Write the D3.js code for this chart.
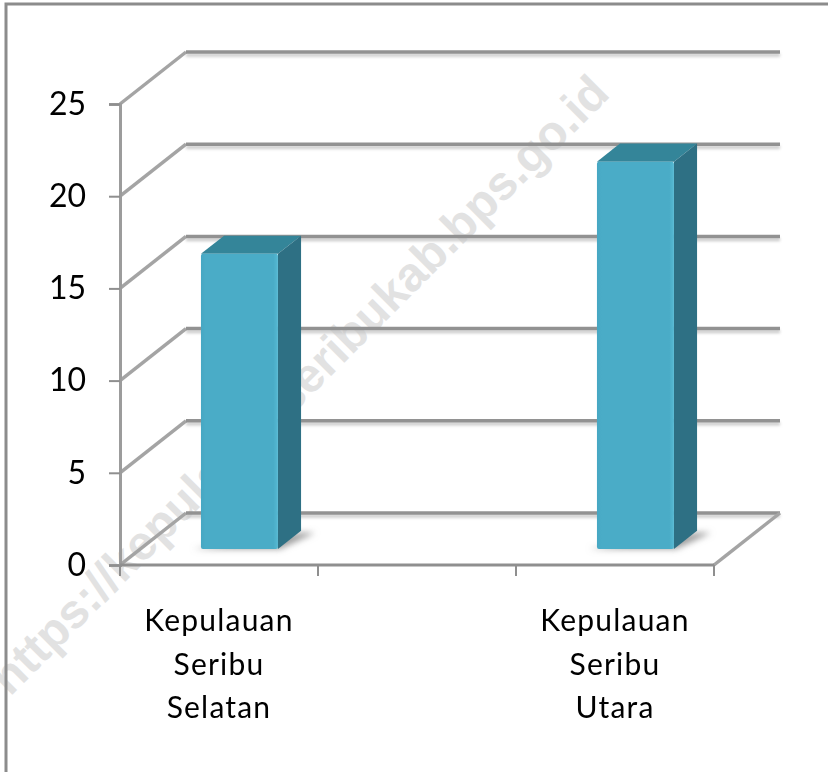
<!DOCTYPE html>
<html lang="en">
<head>
    <meta charset="UTF-8">
    <title>Kepulauan Seribu</title>
    <script src="https://d3js.org/d3.v7.min.js"></script>
    <style>
        html, body { margin: 0; padding: 0; background: #fff; }
        svg { display: block; }
        text { font-family: Lato, "Open Sans", sans-serif; fill: #000; }
    </style>
</head>
<body>
    <div id="chart-div"></div>
    <script type="text/javascript">
        // data
        const categories = ["Kepulauan Seribu Selatan", "", "Kepulauan Seribu Utara"];
        const values = [16, null, 21];
        const yTicks = [0, 5, 10, 15, 20, 25];
        const watermark = "https://kepulauanseribukab.bps.go.id";

        const chartWidth = 828, chartHeight = 772;

        const svg = d3.select("#chart-div").append("svg")
            .attr("width", chartWidth)
            .attr("height", chartHeight);

        const x = d3.scaleBand().domain(categories).range([120, 714]);
        const y = d3.scaleLinear().domain([0, 25]).range([565, 104]);

        // depth into the picture: 0 = front wall edge, 1 = back wall
        const depthX = d3.scaleLinear().domain([0, 1]).range([0, 66]);
        const depthY = d3.scaleLinear().domain([0, 1]).range([0, -52]);
        const barNear = 0.31, barFar = 0.66;
        const barWidth = 77;

        const defs = svg.append("defs");
        const addBlur = (id, sd) => defs.append("filter").attr("id", id)
            .attr("filterUnits", "userSpaceOnUse")
            .attr("x", 0).attr("y", 0).attr("width", chartWidth).attr("height", chartHeight)
            .append("feGaussianBlur").attr("stdDeviation", sd);
        addBlur("soft", 1.6);
        addBlur("crisp", 0.6);
        addBlur("floor", 3);
        const frontGrad = defs.append("linearGradient").attr("id", "front");
        frontGrad.append("stop").attr("offset", "0").attr("stop-color", "#46a7c3");
        frontGrad.append("stop").attr("offset", "0.06").attr("stop-color", "#4aacc7");
        frontGrad.append("stop").attr("offset", "0.94").attr("stop-color", "#4aacc7");
        frontGrad.append("stop").attr("offset", "1").attr("stop-color", "#56b9d3");

        // watermark sits behind the chart
        svg.append("text")
            .attr("transform", "translate(10,697) rotate(-45)")
            .attr("font-size", 48)
            .attr("font-weight", 700)
            .style("font-family", "Liberation Sans, sans-serif")
            .style("fill", "#e2e2e2")
            .text(watermark);

        // frame
        svg.append("path")
            .attr("d", `M6,${chartHeight}V4H${chartWidth}`)
            .attr("fill", "none")
            .attr("stroke", "#8c8c8c")
            .attr("stroke-width", 3);

        const xStart = x.range()[0], xEnd = x.range()[1];

        // grid: side wall diagonal, then back wall line, shadow first
        const sidePath = v => d3.line()([
            [xStart, y(v)],
            [xStart + depthX(1), y(v) + depthY(1)]
        ]);
        const backPath = v => d3.line()([
            [xStart + depthX(1), y(v) + depthY(1)],
            [xEnd + depthX(1), y(v) + depthY(1)]
        ]);
        const grid = svg.append("g").attr("fill", "none");
        grid.append("g").attr("filter", "url(#soft)")
            .selectAll("path").data(yTicks).join("path")
            .attr("d", backPath)
            .attr("transform", "translate(0,3)")
            .attr("stroke", "#c4c4c4")
            .attr("stroke-width", 3);
        const gridLines = grid.append("g").attr("filter", "url(#crisp)");
        gridLines.selectAll("path.side").data(yTicks).join("path")
            .attr("class", "side")
            .attr("d", sidePath)
            .attr("stroke", "#a4a4a4")
            .attr("stroke-width", 3.5);
        gridLines.selectAll("path.back").data(yTicks).join("path")
            .attr("class", "back")
            .attr("d", backPath)
            .attr("stroke", "#929292")
            .attr("stroke-width", 3.5);

        // floor front diagonal at the right end
        gridLines.append("line")
            .attr("x1", xEnd).attr("y1", y(0))
            .attr("x2", xEnd + depthX(1)).attr("y2", y(0) + depthY(1))
            .attr("stroke", "#a4a4a4")
            .attr("stroke-width", 3.5);

        // bars
        const bars = categories.map((c, i) => ({c: c, v: values[i], i: i})).filter(d => d.v !== null);
        const bar = svg.append("g").selectAll("g").data(bars).join("g");

        const barLeft = d => x(d.c) + x.bandwidth() / 2 - barWidth / 2 + depthX(barNear);
        const barRight = d => barLeft(d) + barWidth;
        const barBottom = () => y(0) + depthY(barNear);
        const barTop = d => y(d.v) + depthY(barNear);
        const dx = depthX(barFar) - depthX(barNear), dy = depthY(barFar) - depthY(barNear);

        // floor shadow
        bar.append("path")
            .attr("d", d => d3.line()([
                [barLeft(d) - 8, barBottom()],
                [barRight(d) + 2, barBottom()],
                [barRight(d) + dx + 14, barBottom() + dy + 2],
                [barRight(d) + dx, barBottom() + dy + 2]
            ]))
            .attr("fill", "#9c9c9c")
            .attr("filter", "url(#floor)");

        bar.append("path")
            .attr("d", d => d3.line()([
                [barLeft(d), barTop(d)], [barLeft(d) + dx, barTop(d) + dy],
                [barRight(d) + dx, barTop(d) + dy], [barRight(d), barTop(d)]
            ]) + "Z")
            .attr("fill", "#348599");
        bar.append("path")
            .attr("d", d => d3.line()([
                [barRight(d), barTop(d)], [barRight(d) + dx, barTop(d) + dy],
                [barRight(d) + dx, barBottom() + dy], [barRight(d), barBottom()]
            ]) + "Z")
            .attr("fill", "#2e7084");
        bar.append("rect")
            .attr("x", barLeft)
            .attr("y", barTop)
            .attr("width", barWidth)
            .attr("height", d => barBottom() - barTop(d))
            .attr("rx", 2)
            .attr("fill", "url(#front)");

        // y axis
        const yAxis = svg.append("g")
            .attr("transform", `translate(${xStart},0)`)
            .call(d3.axisLeft(y).tickValues(yTicks).tickSize(11).tickPadding(23));
        yAxis.select(".domain").attr("stroke", "#9c9c9c").attr("stroke-width", 3);
        yAxis.selectAll(".tick line").attr("stroke", "#8f8f8f").attr("stroke-width", 2);
        yAxis.selectAll(".tick text")
            .attr("font-size", 32)
            .style("font-family", "Lato, sans-serif")
            .attr("fill", "#000");

        // x axis: ticks sit on band edges, labels are wrapped by hand below
        const xTicks = categories.map(c => x(c)).concat([xEnd]);
        const xAxis = svg.append("g");
        xAxis.append("line")
            .attr("x1", xStart).attr("x2", xEnd)
            .attr("y1", y(0)).attr("y2", y(0))
            .attr("stroke", "#8f8f8f").attr("stroke-width", 3);
        xAxis.selectAll("line.tick").data(xTicks).join("line")
            .attr("class", "tick")
            .attr("x1", d => d).attr("x2", d => d)
            .attr("y1", y(0)).attr("y2", y(0) + 11)
            .attr("stroke", "#8f8f8f").attr("stroke-width", 2);

        const labels = xAxis.selectAll("text").data(categories.filter(c => c)).join("text")
            .attr("text-anchor", "middle")
            .attr("font-size", 30)
            .attr("letter-spacing", 1.2);
        labels.each(function (c) {
            const words = c.split(" ");
            d3.select(this).selectAll("tspan").data(words).join("tspan")
                .attr("x", x(c) + x.bandwidth() / 2)
                .attr("y", (w, i) => 631 + i * 43.5)
                .text(w => w);
        });
    </script>
</body>
</html>
